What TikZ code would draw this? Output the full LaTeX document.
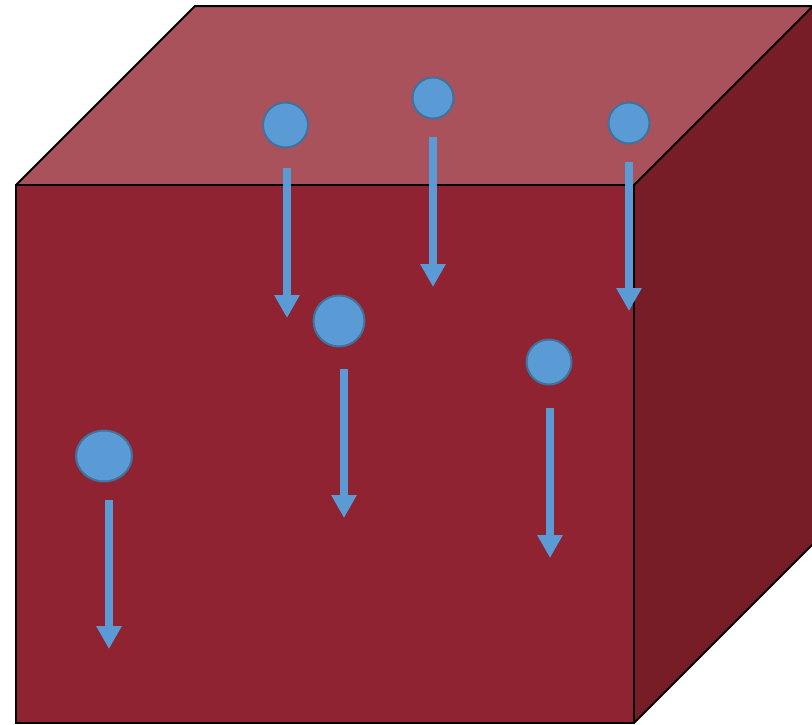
\documentclass[tikz,border=0pt]{standalone}
\usetikzlibrary{arrows.meta,shapes.geometric}
\definecolor{frontc}{RGB}{143,35,49}
\definecolor{topc}{RGB}{169,82,91}
\definecolor{sidec}{RGB}{118,29,39}
\definecolor{dropf}{RGB}{91,155,213}
\definecolor{dropd}{RGB}{65,113,156}
\tikzset{
  face/.style={draw=black,line width=2pt,line join=miter},
  drop/.style={circle,fill=dropf,draw=dropd,line width=2pt,inner sep=0pt},
  fall/.style={draw=dropf,line width=8pt,-{Triangle[width=24pt,length=23pt]}}
}
\begin{document}
\begin{tikzpicture}[x=1pt,y=-1pt]
\useasboundingbox (0,0) rectangle (812,724);
\clip (0,0) rectangle (812,724);
% cube
\coordinate (A) at (16,185);
\coordinate (B) at (634,185);
\coordinate (C) at (634,723);
\coordinate (D) at (16,723);
\coordinate (E) at (195,6);
\coordinate (F) at (813,6);
\coordinate (G) at (813,544);
\fill[frontc] (A) -- (B) -- (C) -- (D) -- cycle;
\fill[topc] (A) -- (E) -- (F) -- (B) -- cycle;
\fill[sidec] (B) -- (F) -- (G) -- (C) -- cycle;
\draw[face] (A) -- (B) -- (C) -- (D) -- cycle;
\draw[face] (A) -- (E) -- (F) -- (B);
\draw[face] (F) -- (G) -- (C);
% drops
\node[drop,minimum size=45pt] (d1) at (285.5,125) {};
\node[drop,minimum size=41pt] (d2) at (433,98) {};
\node[drop,minimum size=41pt] (d3) at (629,123) {};
\node[drop,minimum size=51pt] (d4) at (339,321) {};
\node[drop,minimum size=45pt] (d5) at (549,362) {};
\node[drop,ellipse,minimum width=56pt,minimum height=51pt] (d6) at (104,456) {};
% arrows
\coordinate (s1) at (287,168); \coordinate (t1) at (287,318);
\coordinate (s2) at (433,137); \coordinate (t2) at (433,287);
\coordinate (s3) at (629,162); \coordinate (t3) at (629,311);
\coordinate (s4) at (344,369); \coordinate (t4) at (344,518);
\coordinate (s5) at (550,408); \coordinate (t5) at (550,558);
\coordinate (s6) at (109,500); \coordinate (t6) at (109,649);
\foreach \i in {1,...,6} { \draw[fall] (s\i) -- (t\i); }
\end{tikzpicture}
\end{document}
